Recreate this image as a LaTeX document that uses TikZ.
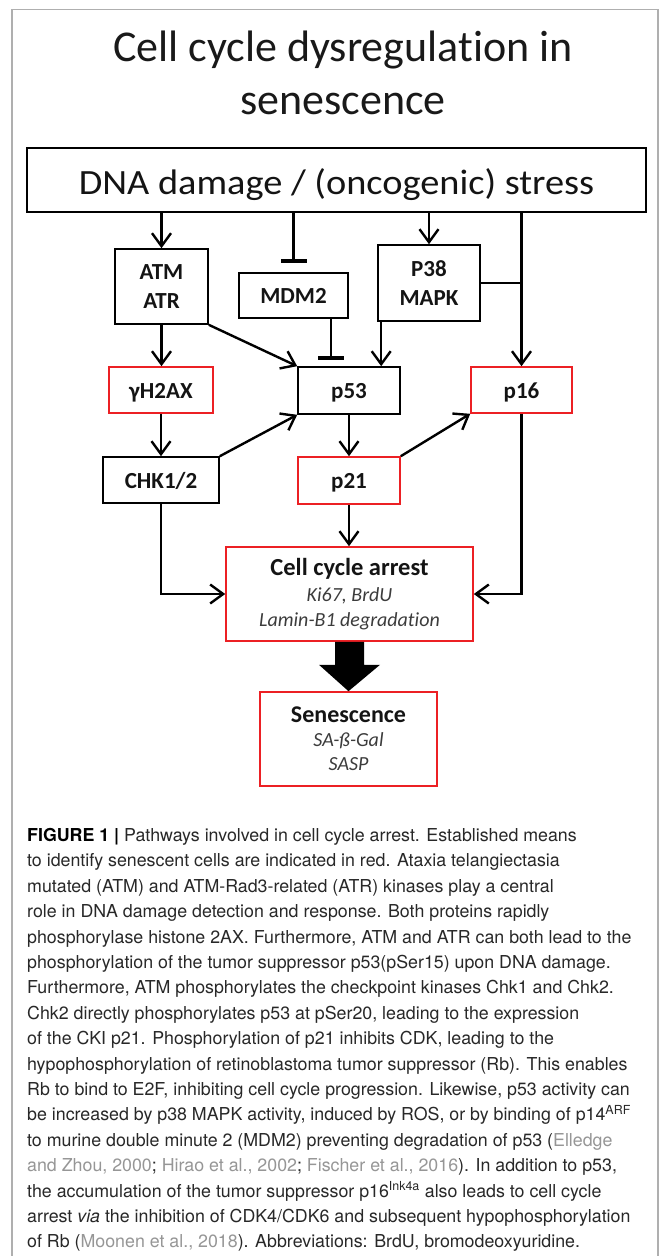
\documentclass[tikz,border=0pt]{standalone}
\usepackage{fontspec}
\newfontfamily\carlito[Ligatures={NoCommon}]{Carlito}
\newfontfamily\heros{TeX Gyre Heros}
\usetikzlibrary{arrows.meta,calc}
\definecolor{boxred}{RGB}{236,32,36}
\definecolor{framegray}{RGB}{175,175,175}
\definecolor{captxt}{RGB}{40,40,40}
\definecolor{citegray}{RGB}{150,150,150}
\definecolor{itgray}{RGB}{60,60,60}
\begin{document}
\begin{tikzpicture}[x=1pt,y=-1pt,
  box/.style={draw=black, line width=1.6pt, inner sep=0pt, align=center, text=black!92,
    font=\carlito\bfseries\fontsize{23}{29}\selectfont},
  redbox/.style={box, draw=boxred},
  one/.style={text height=16pt, text depth=0pt},
  arr/.style={line width=2.4pt, -{Straight Barb[length=13pt,width=19pt]}},
  inh/.style={line width=2.4pt, -{Bar[width=26pt,line width=4.5pt]}},
  plain/.style={line width=2.4pt}
]
\useasboundingbox (0,0) rectangle (663,1256);
\fill[white] (0,0) rectangle (663,1256);
\draw[framegray, line width=1.5pt] (12,1256) -- (12,9.5) -- (658,9.5) -- (658,1256);

% title
\node[font=\carlito\fontsize{44}{53}\selectfont, align=center, text=black!90] (title) at (343,73)
  {Cell cycle dysregulat\kern0pt ion in\\senescence};

% nodes
\node[box, minimum width=619pt, minimum height=64pt, text height=28pt, text depth=0pt,
  font=\carlito\fontsize{35.5}{40}\selectfont] (dna) at (336.5,180)
  {\scalebox{1.08}[1]{DNA damage / (oncogenic) stress}};
\node[box, minimum width=93pt, minimum height=75pt] (atm) at (161.5,286.5) {ATM\\ATR};
\node[box, one, minimum width=109pt, minimum height=45pt] (mdm2) at (293.5,295.5) {MDM2};
\node[box, minimum width=102pt, minimum height=76pt] (p38) at (429,283) {P38\\MAPK};
\node[redbox, one, minimum width=104pt, minimum height=46pt] (yh2ax) at (161,390) {γH2AX};
\node[box, one, minimum width=102pt, minimum height=47pt] (p53) at (349,390.5) {p53};
\node[redbox, one, minimum width=101pt, minimum height=46pt] (p16) at (521.5,390) {p16};
\node[box, one, minimum width=116pt, minimum height=46pt] (chk) at (161,480) {CHK1/2};
\node[redbox, one, minimum width=102pt, minimum height=47pt] (p21) at (349,480.5) {p21};
\node[redbox, minimum width=247pt, minimum height=94pt, font=\carlito\fontsize{20}{24.5}\selectfont]
  (arrest) at (349.5,594)
  {{\bfseries\fontsize{24.5}{26}\selectfont Cell cycle arrest}\\[2.2pt]
   {\itshape\color{itgray}Ki67, BrdU}\\
   {\itshape\color{itgray}Lamin-B1 degradat\kern0pt ion}};
\node[redbox, minimum width=177pt, minimum height=94pt, font=\carlito\fontsize{20}{24}\selectfont]
  (sen) at (348.5,739)
  {{\bfseries\fontsize{24}{26}\selectfont Senescence}\\
   {\itshape\color{itgray}SA-ß-Gal}\\
   {\itshape\color{itgray}SASP}};

% connectors
\draw[arr] (dna.south -| atm.north) -- (atm.north);
\draw[inh, shorten >=9pt] (dna.south -| mdm2.north) -- (mdm2.north);
\draw[arr] (dna.south -| p38.north) -- (p38.north);
\draw[arr] (dna.south -| p16.north) -- (p16.north);
\coordinate (junc) at (p38.east -| p16.north);
\draw[plain] (p38.east) -- (junc);
\draw[arr] ([xshift=4pt]p38.south west) -- ([xshift=4pt]p38.south west |- p53.north);
\draw[inh, shorten >=6pt] ([xshift=-18pt]mdm2.south east) -- ([xshift=-18pt]mdm2.south east |- p53.north);
\draw[arr] (atm.south east) -- (p53.north west);
\draw[arr] (atm.south) -- (atm.south |- yh2ax.north);
\draw[arr] (yh2ax.south) -- (yh2ax.south |- chk.north);
\draw[arr] (chk.north east) -- (p53.south west);
\draw[arr] (p53.south) -- (p21.north);
\draw[arr] (p21.north east) -- (p16.south west);
\draw[arr] (p21.south) -- (p21.south |- arrest.north);
\draw[arr] (chk.south) |- (arrest.west);
\draw[arr] (p16.south) |- (arrest.east);
\fill[black] ($(arrest.south)+(-14.5,0)$) -- ($(arrest.south)+(-14.5,23)$) -- ($(arrest.south)+(-30.5,23)$)
  -- (sen.north) -- ($(arrest.south)+(30.5,23)$) -- ($(arrest.south)+(14.5,23)$)
  -- ($(arrest.south)+(14.5,0)$) -- cycle;

% caption
\node[anchor=north west, inner sep=0pt, align=left, text=captxt,
  font=\heros\fontsize{17.8}{25.4}\selectfont] (caption) at (27,828)
{{\color{black}\bfseries FIGURE 1 |} Pathways involved in cell cycle arrest. Established means\\
to identify senescent cells are indicated in red. Ataxia telangiectasia\\
mutated (ATM) and ATM-Rad3-related (ATR) kinases play a central\\
role in DNA damage detection and response. Both proteins rapidly\\
phosphorylase histone 2AX. Furthermore, ATM and ATR can both lead to the\\
phosphorylation of the tumor suppressor p53(pSer15) upon DNA damage.\\
Furthermore, ATM phosphorylates the checkpoint kinases Chk1 and Chk2.\\
Chk2 directly phosphorylates p53 at pSer20, leading to the expression\\
of the CKI p21. Phosphorylation of p21 inhibits CDK, leading to the\\
hypophosphorylation of retinoblastoma tumor suppressor (Rb). This enables\\
Rb to bind to E2F, inhibiting cell cycle progression. Likewise, p53 activity can\\
be increased by p38 MAPK activity, induced by ROS, or by binding of p14\textsuperscript{ARF}\\
to murine double minute 2 (MDM2) preventing degradation of p53 ({\color{citegray}Elledge}\\
{\color{citegray}and Zhou, 2000}; {\color{citegray}Hirao et al., 2002}; {\color{citegray}Fischer et al., 2016}). In addition to p53,\\
the accumulation of the tumor suppressor p16\textsuperscript{Ink4a} also leads to cell cycle\\
arrest \textit{via} the inhibition of CDK4/CDK6 and subsequent hypophosphorylation\\
of Rb ({\color{citegray}Moonen et al., 2018}). Abbreviations: BrdU, bromodeoxyuridine.};
\end{tikzpicture}
\end{document}
